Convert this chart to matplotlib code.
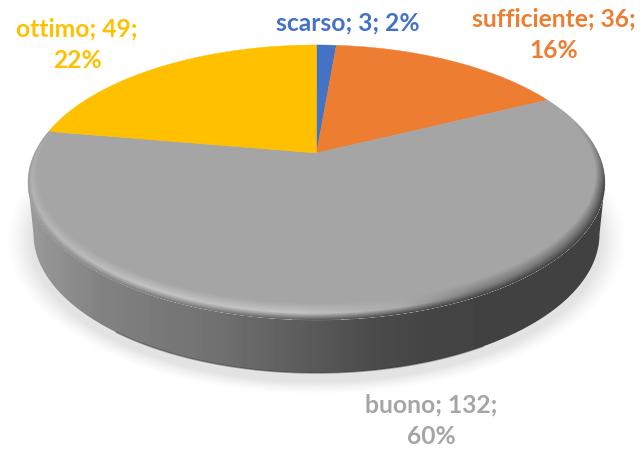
import numpy as np
import matplotlib
matplotlib.use('Agg')
import matplotlib.pyplot as plt
from matplotlib.path import Path
from matplotlib.patches import PathPatch

# Data
categories = ['scarso', 'sufficiente', 'buono', 'ottimo']
values = [3, 36, 132, 49]
percents = [2, 16, 60, 22]
colors = ['#4472C4', '#ED7D31', '#A5A5A5', '#FFC000']

W, H = 642, 450
BASE_GRAY = 165

# Perspective of the pie top, in pixels
cx, cy = 316.5, 153
k, S, R = 0.2145, 131.2, 281.8

# Ellipses used for the rim, side and shadow
top_ell = (316.5, 182.5, 288.5, 137.5)
inner_ell = (316.5, 174.0, 279.0, 129.0)
bot_ell = (316.5, 234.0, 283.0, 139.0)
shadow_ell = (316.5, 240.0, 291.0, 145.0)


def project(theta):
    # theta clockwise from 12 o'clock
    u, v = np.sin(theta), np.cos(theta)
    w = 1 + k * v
    return cx + R * u / w, cy - S * v / w


def ell_pts(e, a0, a1, n=200):
    a = np.linspace(a0, a1, n)
    return e[0] + e[2] * np.cos(a), e[1] + e[3] * np.sin(a)


fig = plt.figure(figsize=(W / 100, H / 100), dpi=100)
ax = fig.add_axes([0, 0, 1, 1])
ax.set_xlim(0, W)
ax.set_ylim(H, 0)
ax.axis('off')

xx, yy = np.meshgrid(np.arange(W) + 0.5, np.arange(H) + 0.5)
ext = (0, W, H, 0)

# Soft shadow under the pie
d = np.sqrt(((xx - shadow_ell[0]) / shadow_ell[2]) ** 2 + ((yy - shadow_ell[1]) / shadow_ell[3]) ** 2)
shadow = np.zeros((H, W, 4))
shadow[..., :3] = 0.55
shadow[..., 3] = 0.24 * np.clip((1.07 - d) / 0.09, 0, 1) ** 1.5
ax.imshow(shadow, extent=ext, aspect='auto', zorder=1)

# Side of the cylinder with horizontal gradient
side_x = [28, 40, 100, 220, 290, 370, 430, 500, 610]
side_g = [155, 150, 130, 112, 95, 76, 68, 66, 66]
side_col = np.interp(xx, side_x, side_g) / 255
lx, ly = ell_pts(top_ell, np.pi, 0)
bx, by = ell_pts(bot_ell, 0, np.pi)
side_path = Path(np.column_stack([np.r_[lx, bx], np.r_[ly, by]]))
side_patch = PathPatch(side_path, fc='none', ec='none', transform=ax.transData)
ax.add_patch(side_patch)
side_im = ax.imshow(side_col, extent=ext, aspect='auto', cmap='gray', vmin=0, vmax=1, zorder=2)
side_im.set_clip_path(side_patch)
# darker lip along the bottom edge
ax.plot(*ell_pts(bot_ell, np.pi * 0.3, np.pi * 0.75), color='#303030', lw=1.2, alpha=0.4, zorder=2.5)

# Wedges of the top face
total = sum(values)
start = 0
wedges = []
for val, col in zip(values, colors):
    th = np.linspace(start, start + val, 200) / total * 2 * np.pi
    px, py = project(th)
    poly, = ax.fill(np.r_[cx, px], np.r_[cy, py], color=col, lw=0.3, zorder=3)
    wedges.append(poly)
    start += val

# Bevel on the rim of the buono slice
ts = np.linspace(0, 1, 81)
tt = np.full((H, W), np.nan)
for t in ts[::-1]:
    ey = inner_ell[1] + (top_ell[1] - inner_ell[1]) * t
    erx = inner_ell[2] + (top_ell[2] - inner_ell[2]) * t
    ery = inner_ell[3] + (top_ell[3] - inner_ell[3]) * t
    inside = ((xx - top_ell[0]) / erx) ** 2 + ((yy - ey) / ery) ** 2 <= 1
    tt[inside] = t
peak = np.interp(xx, [28, 150, 300, 400, 470, 605], [180, 195, 195, 172, 130, 105])
end = np.interp(xx, side_x, side_g)
rim = np.where(tt < 0.6,
               BASE_GRAY + (peak - BASE_GRAY) * (tt / 0.6),
               peak + (end - peak) * ((tt - 0.6) / 0.4))
# rim fades out towards the back of the pie
fade = np.clip((yy - 120) / 70, 0, 1)
rim = BASE_GRAY + (rim - BASE_GRAY) * fade
rim_rgba = np.zeros((H, W, 4))
rim_rgba[..., :3] = (np.nan_to_num(rim, nan=BASE_GRAY) / 255)[..., None]
rim_rgba[..., 3] = np.where(tt > 0, 1.0, 0.0)
rim_im = ax.imshow(rim_rgba, extent=ext, aspect='auto', zorder=4)
rim_im.set_clip_path(wedges[2])

# Labels
label_pos = [(348, 23), (553.5, 35), (431.5, 421), (77, 44.5)]
for cat, val, pct, col, (tx, ty) in zip(categories, values, percents, colors, label_pos):
    text = f'{cat}; {val};\n{pct}%' if cat != 'scarso' else f'{cat}; {val}; {pct}%'
    ax.text(tx, ty, text, color=col, ha='center', va='center', fontsize=17.7,
            fontweight='bold', family='Lato', linespacing=1.45, zorder=5)

fig.savefig('out.png', dpi=100)
